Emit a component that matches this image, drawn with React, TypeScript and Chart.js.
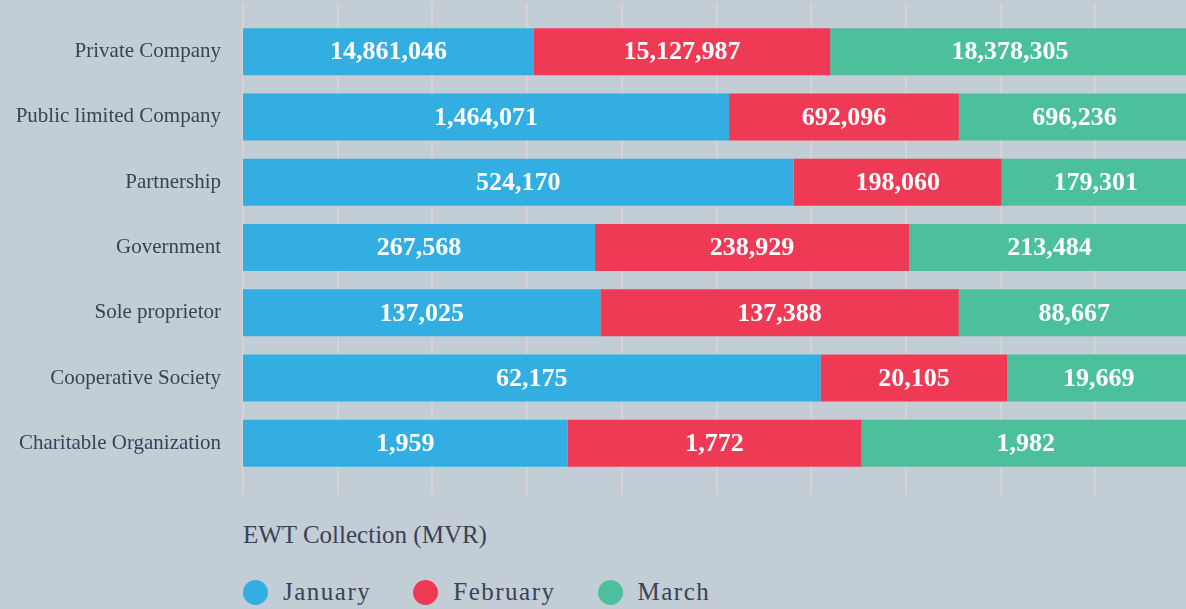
import React, { useEffect, useRef } from "react";
import { Chart, registerables } from "chart.js";

Chart.register(...registerables);

const categories = [
  "Private Company",
  "Public limited Company",
  "Partnership",
  "Government",
  "Sole proprietor",
  "Cooperative Society",
  "Charitable Organization",
];
const seriesNames = ["January", "February", "March"];
const january = [14861046, 1464071, 524170, 267568, 137025, 62175, 1959];
const february = [15127987, 692096, 198060, 238929, 137388, 20105, 1772];
const march = [18378305, 696236, 179301, 213484, 88667, 19669, 1982];
const gridTicks = [0, 10, 20, 30, 40, 50, 60, 70, 80, 90, 100];
const legendTitle = "EWT Collection (MVR)";

const seriesColors = ["#33aee3", "#ef3a56", "#4cc09c"];
const textColor = "#3a4256";
const bgColor = "#c3cdd6";
const gridColor = "#d8d3d0";

const rawSeries = [january, february, march];
const totals = categories.map((_, i) => january[i] + february[i] + march[i]);

const gridPlugin = {
  id: "bgGrid",
  beforeDatasetsDraw(chart: any) {
    const xs = chart.scales.x;
    const ctx = chart.ctx;
    ctx.save();
    ctx.strokeStyle = gridColor;
    ctx.lineWidth = 2;
    gridTicks.forEach((t) => {
      const px = Math.round(xs.getPixelForValue(t));
      ctx.beginPath();
      ctx.moveTo(px, 3);
      ctx.lineTo(px, 495);
      ctx.stroke();
    });
    ctx.restore();
  },
};

const valueLabelPlugin = {
  id: "valueLabels",
  afterDatasetsDraw(chart: any) {
    const ctx = chart.ctx;
    ctx.save();
    ctx.fillStyle = "#ffffff";
    ctx.font = "bold 26px 'Liberation Serif', serif";
    ctx.textAlign = "center";
    ctx.textBaseline = "middle";
    chart.data.datasets.forEach((_: any, di: number) => {
      const meta = chart.getDatasetMeta(di);
      meta.data.forEach((el: any, i: number) => {
        const p = el.getProps(["x", "y", "base"], true);
        const label = rawSeries[di][i].toLocaleString("en-US");
        ctx.fillText(label, (p.x + p.base) / 2, p.y + 1);
      });
    });
    ctx.restore();
  },
};

export default function App() {
  const canvasRef = useRef<HTMLCanvasElement | null>(null);

  useEffect(() => {
    document.body.style.margin = "0";
    document.body.style.background = bgColor;
    const canvas = canvasRef.current;
    if (!canvas) return;
    const chart = new Chart(canvas, {
      type: "bar",
      data: {
        labels: categories,
        datasets: rawSeries.map((vals, di) => ({
          label: seriesNames[di],
          data: vals.map((v, i) => (v / totals[i]) * 100),
          backgroundColor: seriesColors[di],
          borderWidth: 0,
          barPercentage: 0.72,
          categoryPercentage: 1,
        })),
      },
      options: {
        indexAxis: "y",
        responsive: true,
        maintainAspectRatio: false,
        animation: false,
        layout: { padding: { top: 19, bottom: 24, left: 0, right: 0 } },
        scales: {
          x: { stacked: true, min: 0, max: 100, display: false },
          y: {
            stacked: true,
            grid: { display: false, drawTicks: false },
            border: { display: false },
            ticks: {
              padding: 22,
              color: textColor,
              font: { family: "'Liberation Serif', serif", size: 21 },
            },
            afterFit: (s: any) => {
              s.width = 243;
              s.paddingTop = 0;
              s.paddingBottom = 0;
            },
          },
        },
        plugins: {
          legend: { display: false },
          tooltip: { enabled: false },
        },
      },
      plugins: [gridPlugin, valueLabelPlugin],
    });
    return () => chart.destroy();
  }, []);

  const font = "'Liberation Serif', serif";

  return (
    <div
      style={{
        position: "fixed",
        left: 0,
        top: 0,
        width: 1186,
        height: 609,
        overflow: "hidden",
        background: bgColor,
      }}
    >
      <div style={{ position: "absolute", left: 0, top: 0, width: 1190, height: 500 }}>
        <canvas ref={canvasRef} />
      </div>
      <div
        style={{
          position: "absolute",
          left: 243,
          top: 515,
          height: 40,
          display: "flex",
          alignItems: "center",
          fontFamily: font,
          fontSize: 25,
          color: textColor,
          whiteSpace: "nowrap",
        }}
      >
        {legendTitle}
      </div>
      <div
        style={{
          position: "absolute",
          left: 243,
          top: 572,
          height: 40,
          display: "flex",
          alignItems: "center",
          fontFamily: font,
          fontSize: 25,
          letterSpacing: "1.5px",
          color: textColor,
          whiteSpace: "nowrap",
        }}
      >
        {seriesNames.map((name, i) => (
          <div key={name} style={{ display: "flex", alignItems: "center", marginRight: 42 }}>
            <span
              style={{
                display: "inline-block",
                width: 25,
                height: 25,
                borderRadius: "50%",
                background: seriesColors[i],
                marginRight: 15,
              }}
            />
            <span>{name}</span>
          </div>
        ))}
      </div>
    </div>
  );
}
